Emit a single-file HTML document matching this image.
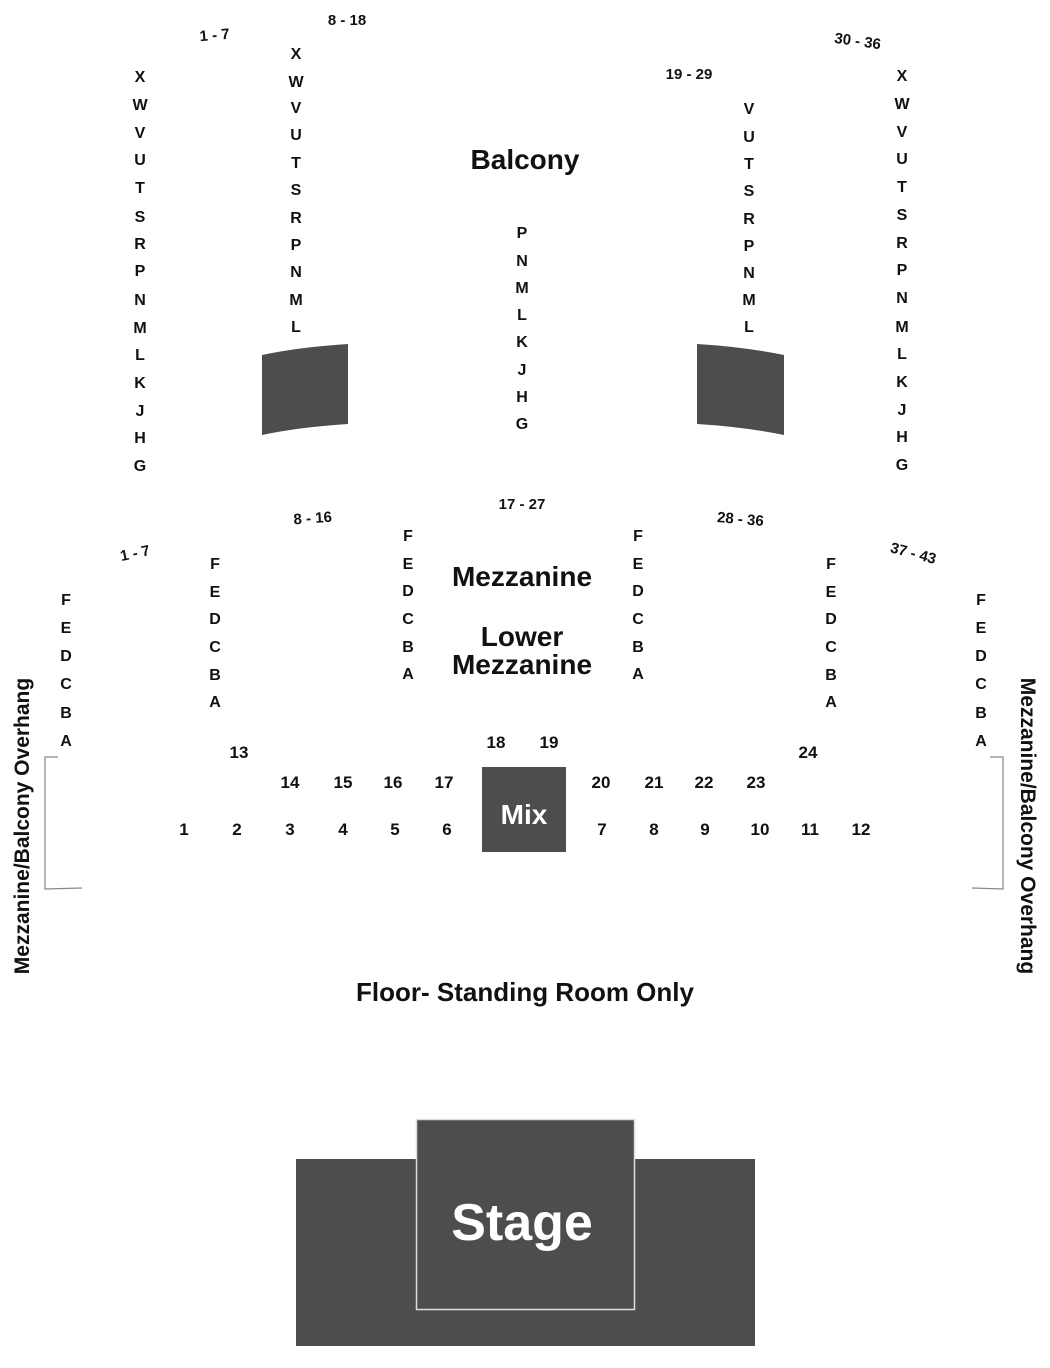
<!DOCTYPE html>
<html><head><meta charset="utf-8"><style>
html,body{margin:0;padding:0;background:#fff;}
svg{display:block;}
text{font-family:"Liberation Sans",Arial,sans-serif;font-weight:bold;fill:#111;text-anchor:middle;}
.l{font-size:16px;}
.n{font-size:17px;}
.s{font-size:15px;}
.t{font-size:28px;}
</style></head><body>
<svg width="1050" height="1368" viewBox="0 0 1050 1368" xmlns="http://www.w3.org/2000/svg">
<text class="s" transform="translate(215,40) rotate(-5)">1 - 7</text>
<text class="s" x="347" y="25">8 - 18</text>
<text class="s" x="689" y="79">19 - 29</text>
<text class="s" transform="translate(857,46) rotate(8)">30 - 36</text>
<text class="s" transform="translate(313,523) rotate(-4)">8 - 16</text>
<text class="s" x="522" y="509">17 - 27</text>
<text class="s" transform="translate(740,524) rotate(5)">28 - 36</text>
<text class="s" transform="translate(136,558) rotate(-12)">1 - 7</text>
<text class="s" transform="translate(912,558) rotate(15)">37 - 43</text>

<g class="l">
<text class="l" x="140" y="82">X</text><text class="l" x="140" y="110">W</text><text class="l" x="140" y="138">V</text><text class="l" x="140" y="165">U</text><text class="l" x="140" y="193">T</text><text class="l" x="140" y="222">S</text><text class="l" x="140" y="249">R</text><text class="l" x="140" y="276">P</text><text class="l" x="140" y="305">N</text><text class="l" x="140" y="333">M</text><text class="l" x="140" y="360">L</text><text class="l" x="140" y="388">K</text><text class="l" x="140" y="416">J</text><text class="l" x="140" y="443">H</text><text class="l" x="140" y="471">G</text>
<text class="l" x="296" y="59">X</text><text class="l" x="296" y="87">W</text><text class="l" x="296" y="113">V</text><text class="l" x="296" y="140">U</text><text class="l" x="296" y="168">T</text><text class="l" x="296" y="195">S</text><text class="l" x="296" y="223">R</text><text class="l" x="296" y="250">P</text><text class="l" x="296" y="277">N</text><text class="l" x="296" y="305">M</text><text class="l" x="296" y="332">L</text>
<text class="l" x="522" y="238">P</text><text class="l" x="522" y="266">N</text><text class="l" x="522" y="293">M</text><text class="l" x="522" y="320">L</text><text class="l" x="522" y="347">K</text><text class="l" x="522" y="375">J</text><text class="l" x="522" y="402">H</text><text class="l" x="522" y="429">G</text>
<text class="l" x="749" y="114">V</text><text class="l" x="749" y="142">U</text><text class="l" x="749" y="169">T</text><text class="l" x="749" y="196">S</text><text class="l" x="749" y="224">R</text><text class="l" x="749" y="251">P</text><text class="l" x="749" y="278">N</text><text class="l" x="749" y="305">M</text><text class="l" x="749" y="332">L</text>
<text class="l" x="902" y="81">X</text><text class="l" x="902" y="109">W</text><text class="l" x="902" y="137">V</text><text class="l" x="902" y="164">U</text><text class="l" x="902" y="192">T</text><text class="l" x="902" y="220">S</text><text class="l" x="902" y="248">R</text><text class="l" x="902" y="275">P</text><text class="l" x="902" y="303">N</text><text class="l" x="902" y="332">M</text><text class="l" x="902" y="359">L</text><text class="l" x="902" y="387">K</text><text class="l" x="902" y="415">J</text><text class="l" x="902" y="442">H</text><text class="l" x="902" y="470">G</text>
<text class="l" x="66" y="605">F</text><text class="l" x="66" y="633">E</text><text class="l" x="66" y="661">D</text><text class="l" x="66" y="689">C</text><text class="l" x="66" y="718">B</text><text class="l" x="66" y="746">A</text>
<text class="l" x="215" y="569">F</text><text class="l" x="215" y="597">E</text><text class="l" x="215" y="624">D</text><text class="l" x="215" y="652">C</text><text class="l" x="215" y="680">B</text><text class="l" x="215" y="707">A</text>
<text class="l" x="408" y="541">F</text><text class="l" x="408" y="569">E</text><text class="l" x="408" y="596">D</text><text class="l" x="408" y="624">C</text><text class="l" x="408" y="652">B</text><text class="l" x="408" y="679">A</text>
<text class="l" x="638" y="541">F</text><text class="l" x="638" y="569">E</text><text class="l" x="638" y="596">D</text><text class="l" x="638" y="624">C</text><text class="l" x="638" y="652">B</text><text class="l" x="638" y="679">A</text>
<text class="l" x="831" y="569">F</text><text class="l" x="831" y="597">E</text><text class="l" x="831" y="624">D</text><text class="l" x="831" y="652">C</text><text class="l" x="831" y="680">B</text><text class="l" x="831" y="707">A</text>
<text class="l" x="981" y="605">F</text><text class="l" x="981" y="633">E</text><text class="l" x="981" y="661">D</text><text class="l" x="981" y="689">C</text><text class="l" x="981" y="718">B</text><text class="l" x="981" y="746">A</text>
</g>

<path d="M262,355 Q300,347 348,344 L348,424 Q300,427 262,435 Z" fill="#4d4d4d"/>
<path d="M697,344 Q745,347 784,355 L784,435 Q745,427 697,424 Z" fill="#4d4d4d"/>

<text class="t" x="525" y="169">Balcony</text>
<text class="t" x="522" y="586">Mezzanine</text>
<text class="t" x="522" y="646">Lower</text>
<text class="t" x="522" y="674">Mezzanine</text>

<text class="n" x="184" y="835">1</text><text class="n" x="237" y="835">2</text><text class="n" x="290" y="835">3</text><text class="n" x="343" y="835">4</text><text class="n" x="395" y="835">5</text><text class="n" x="447" y="835">6</text><text class="n" x="602" y="835">7</text><text class="n" x="654" y="835">8</text><text class="n" x="705" y="835">9</text><text class="n" x="760" y="835">10</text><text class="n" x="810" y="835">11</text><text class="n" x="861" y="835">12</text>
<text class="n" x="290" y="788">14</text><text class="n" x="343" y="788">15</text><text class="n" x="393" y="788">16</text><text class="n" x="444" y="788">17</text><text class="n" x="601" y="788">20</text><text class="n" x="654" y="788">21</text><text class="n" x="704" y="788">22</text><text class="n" x="756" y="788">23</text>
<text class="n" x="239" y="758">13</text><text class="n" x="808" y="758">24</text>
<text class="n" x="496" y="748">18</text><text class="n" x="549" y="748">19</text>

<rect x="482" y="767" width="84" height="85" fill="#4d4d4d"/>
<text x="524" y="824" style="font-size:28px;fill:#fff">Mix</text>

<polyline points="58,757 45,757 45,889 82,888" fill="none" stroke="#888" stroke-width="1.2"/>
<polyline points="990,757 1003,757 1003,889 972,888" fill="none" stroke="#888" stroke-width="1.2"/>
<text transform="translate(29,826) rotate(-90)" style="font-size:21px">Mezzanine/Balcony Overhang</text>
<text transform="translate(1021,826) rotate(90)" style="font-size:21px">Mezzanine/Balcony Overhang</text>

<text x="525" y="1001" style="font-size:26px">Floor- Standing Room Only</text>

<rect x="296" y="1159" width="459" height="187" fill="#4d4d4d"/>
<rect x="416.5" y="1119.5" width="218" height="190" fill="#4d4d4d" stroke="#ddd" stroke-width="1.5"/>
<text x="522" y="1240" style="font-size:52px;fill:#fff">Stage</text>
</svg>
</body></html>
